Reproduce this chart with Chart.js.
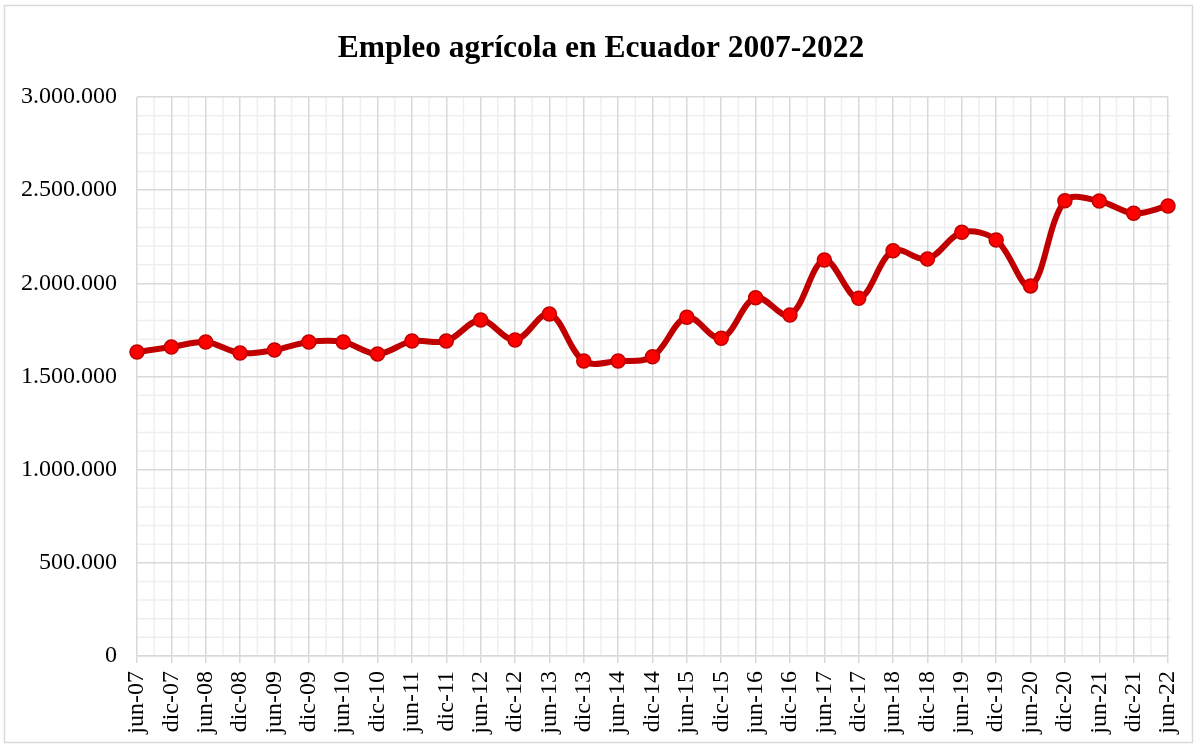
<!DOCTYPE html>
<html>
<head>
<meta charset="utf-8">
<script src="https://cdn.jsdelivr.net/npm/chart.js@4.4.1/dist/chart.umd.min.js"></script>
<style>
  html, body { margin: 0; padding: 0; background: #fff; }
  #wrap { position: relative; width: 1197px; height: 746px; }
</style>
</head>
<body>
<div id="wrap"><canvas id="chart" width="1197" height="746"></canvas></div>
<script>
var chartTitle = "Empleo agrícola en Ecuador 2007-2022";
var periodos = [
    "jun-07", "dic-07", "jun-08", "dic-08", "jun-09", "dic-09", "jun-10", "dic-10",
    "jun-11", "dic-11", "jun-12", "dic-12", "jun-13", "dic-13", "jun-14", "dic-14",
    "jun-15", "dic-15", "jun-16", "dic-16", "jun-17", "dic-17", "jun-18", "dic-18",
    "jun-19", "dic-19", "jun-20", "dic-20", "jun-21", "dic-21", "jun-22"
];
var empleo = [
    1631000, 1658000, 1685000, 1626000, 1642000, 1685000, 1685000, 1621000,
    1690000, 1690000, 1803000, 1696000, 1835000, 1583000, 1583000, 1606000,
    1818000, 1705000, 1923000, 1830000, 2125000, 1920000, 2175000, 2131000,
    2274000, 2233000, 1986000, 2443000, 2442000, 2376000, 2415000
];
var yMin = 0;
var yMax = 3000000;
var yStep = 500000;
var yMinorStep = 100000;

var serif = "'Liberation Serif', 'Times New Roman', serif";

function formatMiles(v) {
    return String(v).replace(/\B(?=(\d{3})+(?!\d))/g, ".");
}

// borde exterior, rejilla secundaria y titulo (centrado en el cuadro, no en el area)
var decoracion = {
    id: "decoracion",
    beforeDraw: function(chart) {
        var ctx = chart.ctx;
        var area = chart.chartArea;
        var x = chart.scales.x;
        var y = chart.scales.y;
        ctx.save();
        ctx.strokeStyle = "#d9d9d9";
        ctx.lineWidth = 1.5;
        ctx.strokeRect(4.5, 5.5, 1188, 737);

        ctx.fillStyle = "#000";
        ctx.font = "bold 31.5px " + serif;
        ctx.textAlign = "center";
        ctx.textBaseline = "alphabetic";
        ctx.fillText(chartTitle, 601, 57);

        ctx.strokeStyle = "#efefef";
        ctx.lineWidth = 1.5;
        for (var i = 0; i < periodos.length - 1; i++) {
            var px = (x.getPixelForValue(i) + x.getPixelForValue(i + 1)) / 2;
            ctx.beginPath();
            ctx.moveTo(px, area.top);
            ctx.lineTo(px, area.bottom);
            ctx.stroke();
        }
        for (var v = yMin; v <= yMax; v += yMinorStep) {
            if (v % yStep === 0) continue;
            var py = y.getPixelForValue(v);
            ctx.beginPath();
            ctx.moveTo(area.left, py);
            ctx.lineTo(area.right + 3, py);
            ctx.stroke();
        }
        ctx.restore();
    }
};

new Chart(document.getElementById("chart"), {
    type: "line",
    data: {
        labels: periodos,
        datasets: [{
            label: "Empleo agrícola",
            data: empleo,
            borderColor: "#c00000",
            borderWidth: 6,
            tension: 0.35,
            pointRadius: 7,
            pointBackgroundColor: "#ff0000",
            pointBorderColor: "#c00000",
            pointBorderWidth: 1.5,
            clip: false
        }]
    },
    options: {
        responsive: false,
        animation: false,
        layout: {
            padding: { left: 10, right: 29, top: 97, bottom: 0 }
        },
        plugins: {
            legend: { display: false },
            tooltip: { enabled: false },
            title: { display: false }
        },
        scales: {
            x: {
                offset: false,
                grid: {
                    color: "#d9d9d9",
                    lineWidth: 1.5,
                    drawTicks: true,
                    tickLength: 7
                },
                border: { display: true, color: "#d9d9d9", width: 1.5 },
                ticks: {
                    color: "#000",
                    font: { family: serif, size: 24 },
                    maxRotation: 90,
                    minRotation: 90,
                    autoSkip: false,
                    padding: 8
                },
                afterFit: function(scale) {
                    scale.height = 90;
                    scale.paddingLeft = 0;
                    scale.paddingRight = 0;
                }
            },
            y: {
                min: yMin,
                max: yMax,
                grid: {
                    color: "#d9d9d9",
                    lineWidth: 1.5,
                    drawTicks: false
                },
                border: { display: false },
                ticks: {
                    stepSize: yStep,
                    color: "#000",
                    font: { family: serif, size: 24 },
                    padding: 20,
                    callback: function(v) { return formatMiles(v); }
                },
                afterFit: function(scale) { scale.width = 127; }
            }
        }
    },
    plugins: [decoracion]
});
</script>
</body>
</html>
